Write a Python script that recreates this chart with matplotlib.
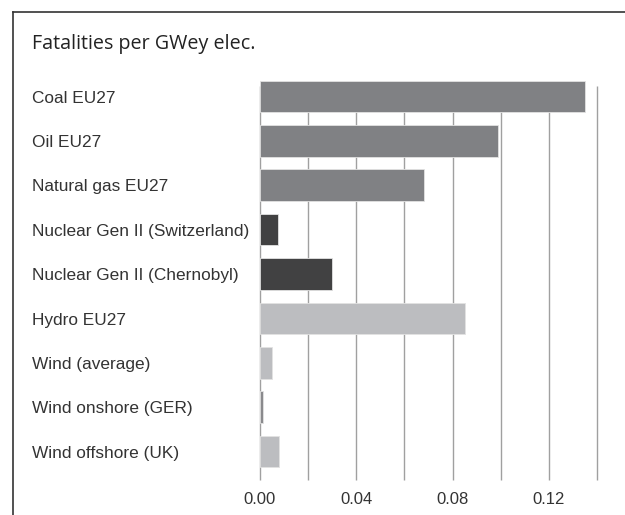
"""Fatalities per GWey of electricity, horizontal bar chart."""
import matplotlib
matplotlib.use("Agg")
import matplotlib.pyplot as plt
from matplotlib.lines import Line2D
from matplotlib.transforms import blended_transform_factory

labels = [
    "Coal EU27",
    "Oil EU27",
    "Natural gas EU27",
    "Nuclear Gen II (Switzerland)",
    "Nuclear Gen II (Chernobyl)",
    "Hydro EU27",
    "Wind (average)",
    "Wind onshore (GER)",
    "Wind offshore (UK)",
]
fatalities = [0.135, 0.099, 0.068, 0.0073, 0.030, 0.0853, 0.005, 0.0011, 0.008]
groups = ["fossil", "fossil", "fossil", "nuclear", "nuclear",
          "renew", "renew", "thin", "renew"]
group_colors = {"fossil": "#808184", "nuclear": "#414142",
                "renew": "#bcbdc0", "thin": "#8a8a8d"}
grid_ticks = [0.0, 0.02, 0.04, 0.06, 0.08, 0.10, 0.12, 0.14]
label_ticks = [0.0, 0.04, 0.08, 0.12]

label_font = ["Liberation Sans", "DejaVu Sans"]

fig = plt.figure(figsize=(6.25, 5.15), dpi=100)
ax = fig.add_axes([260 / 625, 1 - 480 / 515, (597 - 260) / 625, 400 / 515])

ypos = list(range(len(labels)))
ax.vlines(grid_ticks, -0.24, 8.64, color="#a0a0a0", linewidth=1.0,
          zorder=1, clip_on=False)
ax.barh(ypos, fatalities, height=0.71,
        color=[group_colors[g] for g in groups],
        edgecolor="#e2e2e2", linewidth=0.6, zorder=2, clip_on=False)

ax.set_xlim(0, 0.14)
ax.set_ylim(8.64, -0.37)
for s in ax.spines.values():
    s.set_visible(False)
ax.set_yticks([])
ax.set_xticks(label_ticks)
ax.set_xticklabels([f"{t:.2f}" for t in label_ticks],
                   fontsize=12, color="#333333", family=label_font)
ax.tick_params(axis="x", length=0, pad=9)

# category labels: x in figure coords, y in data coords
trans = blended_transform_factory(fig.transFigure, ax.transData)
for y, lab in zip(ypos, labels):
    fig.text(32 / 625, y + 0.04, lab, transform=trans, ha="left", va="center",
             fontsize=12.4, color="#333333", family=label_font)

fig.text(32 / 625, 1 - 44 / 515, "Fatalities per GWey elec.",
         ha="left", va="center", fontsize=14.2, color="#222222",
         family=["Open Sans", "DejaVu Sans"])

fig.add_artist(Line2D([13 / 625, 1], [1 - 12 / 515, 1 - 12 / 515],
                      transform=fig.transFigure, color="#333333", linewidth=1.2))
fig.add_artist(Line2D([13 / 625, 13 / 625], [0, 1 - 12 / 515],
                      transform=fig.transFigure, color="#333333", linewidth=1.2))

fig.savefig("out.png", dpi=100)
